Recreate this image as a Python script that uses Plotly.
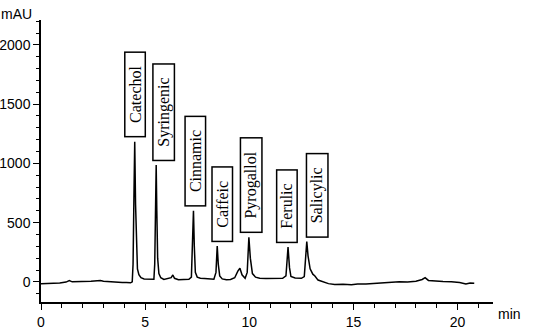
import plotly.graph_objects as go

# Chromatogram trace (time in min, absorbance in mAU)
time_min = [0.0, 0.3, 0.6, 0.9, 1.2, 1.36, 1.5, 1.8, 2.1, 2.4, 2.7, 2.85, 3.0, 3.3, 3.6, 3.9,
            4.1, 4.3, 4.38, 4.42, 4.46, 4.5, 4.54, 4.58, 4.63, 4.7, 4.8, 4.95,
            5.3, 5.42, 5.46, 5.5, 5.53, 5.56, 5.6, 5.66, 5.75, 5.9, 6.1, 6.25, 6.33, 6.41,
            6.6, 6.85, 7.1, 7.22, 7.27, 7.32, 7.36, 7.41, 7.5, 7.65, 7.85, 8.1, 8.3,
            8.4, 8.46, 8.51, 8.58, 8.7, 8.9, 9.1, 9.3, 9.45, 9.55, 9.65, 9.8, 9.9,
            9.98, 10.05, 10.15, 10.3, 10.5, 10.8, 11.1, 11.4, 11.6, 11.76, 11.86, 11.93,
            12.0, 12.2, 12.5, 12.64, 12.72, 12.76, 12.82, 12.92, 13.05, 13.15, 13.3, 13.5,
            13.8, 14.1, 14.5, 14.9, 15.2, 15.6, 16.0, 16.4, 16.8, 17.2, 17.6, 18.0, 18.3,
            18.44, 18.6, 18.9, 19.3, 19.7, 20.1, 20.4, 20.6, 20.8]
absorbance = [-15, -14, -13, -10, -2, 10, 0, 0, 3, 5, 9, 11, 5, 0, -3, -6,
              -6, -8, 0, 150, 700, 1183, 650, 250, 110, 60, 35, 25,
              20, 22, 150, 700, 986, 600, 200, 70, 35, 20, 25, 35, 58, 30,
              18, 20, 22, 40, 300, 601, 300, 80, 40, 30, 28, 25, 22,
              80, 303, 150, 50, 25, 18, 20, 35, 90, 115, 60, 30, 80,
              377, 200, 70, 40, 30, 28, 30, 28, 30, 50, 293, 120,
              45, 32, 30, 45, 250, 340, 220, 110, 65, 50, 15, 5,
              -15, -22, -20, -25, -18, -19, -15, -12, -3, 0, -2, 5, 20,
              36, 12, 5, 2, 0, -5, -17, -10, -12]

# Peak labels
peak_names = ["Catechol", "Syringenic", "Cinnamic", "Caffeic", "Pyrogallol", "Ferulic", "Salicylic"]
peak_times = [4.50, 5.53, 7.32, 8.46, 9.98, 11.86, 12.76]
peak_heights = [1183, 986, 601, 303, 377, 293, 340]
label_xshift = [0, 7, 2, 5, 2, -1, 10]

x_ticks = [0, 5, 10, 15, 20]
y_ticks = [0, 500, 1000, 1500, 2000]

fig = go.Figure()
fig.add_trace(go.Scatter(x=time_min, y=absorbance, mode="lines",
                         line=dict(color="black", width=1.5), showlegend=False,
                         hoverinfo="skip"))

pad = "\u00a0\u00a0\u00a0"
for name, t, h, dx in zip(peak_names, peak_times, peak_heights, label_xshift):
    fig.add_annotation(x=t, y=h, text=pad + name + pad, showarrow=False,
                       textangle=-90, xanchor="center", yanchor="bottom",
                       xshift=dx, yshift=4,
                       font=dict(family="Liberation Serif", size=16, color="black"),
                       bordercolor="black", borderwidth=1.5, borderpad=1,
                       bgcolor="white")

fig.add_annotation(xref="paper", yref="paper", x=-0.092, y=1.0, xanchor="left", yanchor="bottom",
                   yshift=-4, text="mAU", showarrow=False,
                   font=dict(family="Liberation Sans", size=14, color="black"))
fig.add_annotation(xref="paper", yref="paper", x=1.0, y=0, xanchor="left", yanchor="top",
                   xshift=3, yshift=-2, text="min", showarrow=False,
                   font=dict(family="Liberation Sans", size=14, color="black"))

axis_common = dict(showline=True, linecolor="black", linewidth=1.5, ticks="outside",
                   tickcolor="black", tickwidth=1.2, showgrid=False, zeroline=False,
                   automargin=False,
                   tickfont=dict(family="Liberation Sans", size=14, color="black"))

fig.update_xaxes(range=[0, 21.7], tickvals=x_ticks, ticklen=6,
                 minor=dict(dtick=1, ticks="outside", ticklen=4, tickcolor="black", showgrid=False),
                 **axis_common)
fig.update_yaxes(range=[-170, 2210], tickvals=y_ticks, ticklen=6,
                 minor=dict(dtick=100, ticks="outside", ticklen=3, tickcolor="black", showgrid=False),
                 **axis_common)

fig.update_layout(width=550, height=331, margin=dict(l=41, r=57, t=20, b=29),
                  paper_bgcolor="white", plot_bgcolor="white")

fig.write_html("out.html", config={"displayModeBar": False},
               post_script="document.body.style.margin='0';document.body.style.overflow='hidden';")
